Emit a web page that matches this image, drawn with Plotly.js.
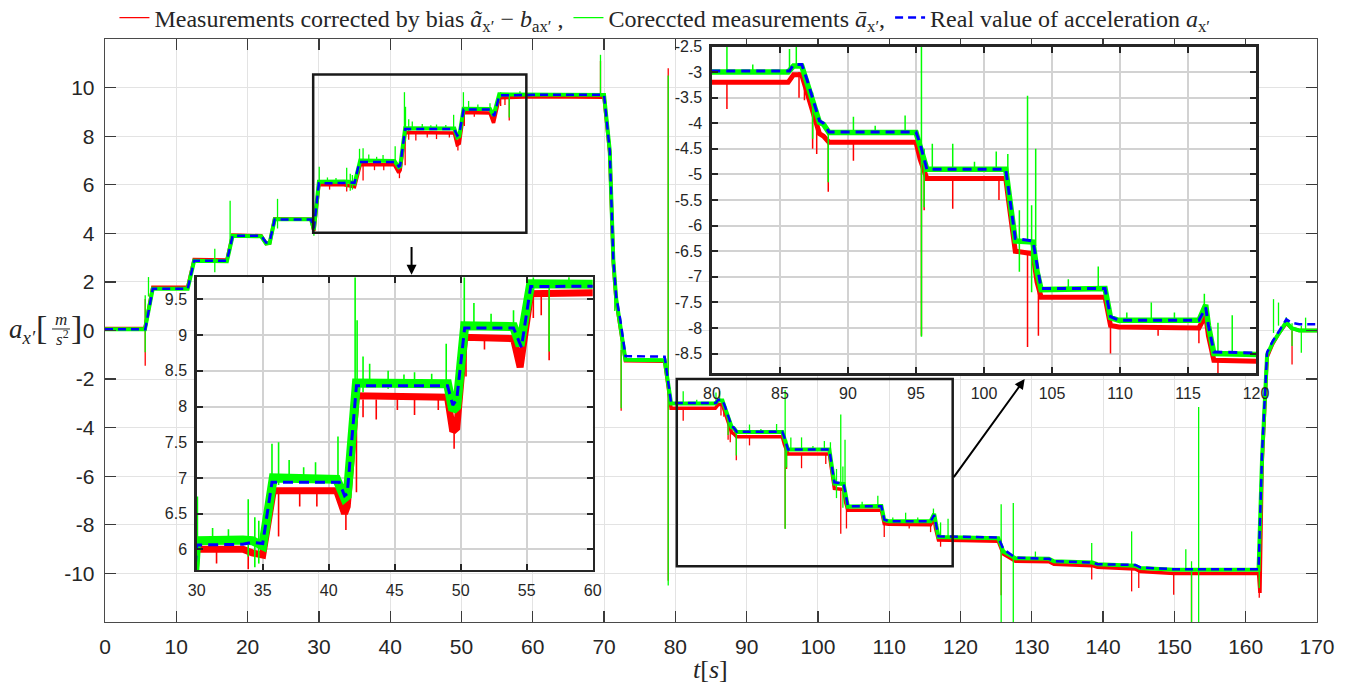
<!DOCTYPE html>
<html>
<head>
<meta charset="utf-8">
<script src="https://cdn.plot.ly/plotly-3.0.1.min.js"></script>
<style>html,body{margin:0;padding:0;background:#fff;}#chart{width:1350px;height:688px;}</style>
</head>
<body>
<div id="chart"></div>
<script>
// ---- Real value of acceleration (blue dashed) ----
const realT = [0, 5.65, 6.7, 11.6, 12.5, 17.1, 17.9, 21.9, 22.6, 23.1, 23.8, 28.9, 29.3, 30.0, 33.5, 34.2, 35.0, 35.7, 40.8, 41.2, 41.4, 42.1, 49.0, 49.4, 49.7, 50.3, 54.0, 54.6, 55.3, 60.0, 69.6, 70.0, 70.8, 71.3, 71.7, 72.3, 73.0, 78.5, 79.4, 85.7, 86.0, 86.6, 87.0, 87.9, 88.2, 88.6, 95.0, 95.3, 95.8, 101.6, 101.8, 102.3, 103.6, 103.9, 104.2, 108.9, 109.3, 109.9, 115.8, 116.3, 116.5, 116.9, 125.3, 126.0, 127.7, 132.4, 133.1, 138.5, 139.2, 144.5, 145.2, 150.0, 161.8, 162.3, 163.0, 163.8, 164.7, 165.7, 166.4, 167.5, 170.0];
const realV = [0.05, 0.05, 1.72, 1.72, 2.87, 2.87, 3.9, 3.9, 3.62, 3.65, 4.57, 4.57, 4.2, 6.06, 6.07, 6.1, 6.08, 6.94, 6.94, 6.75, 6.78, 8.29, 8.29, 8.02, 8.1, 9.1, 9.1, 8.83, 9.68, 9.7, 9.7, 9.7, 7.4, 2.9, 1.4, 0.4, -1.05, -1.08, -2.98, -2.98, -2.85, -2.85, -3.16, -3.95, -4.0, -4.17, -4.17, -4.4, -4.9, -4.9, -5.3, -6.25, -6.3, -6.8, -7.23, -7.23, -7.78, -7.85, -7.85, -7.6, -7.95, -8.47, -8.52, -9.0, -9.35, -9.4, -9.5, -9.55, -9.62, -9.65, -9.75, -9.83, -9.83, -5.0, -0.9, -0.43, -0.02, 0.46, 0.32, 0.26, 0.26];

// ---- Corrected measurements (green) ----
const corrT = [0, 5.6, 6.7, 11.6, 12.5, 17.1, 17.9, 21.9, 22.6, 23.1, 23.8, 28.9, 29.3, 30.0, 33.5, 34.2, 35.0, 35.8, 40.6, 41.2, 41.4, 42.1, 49.0, 49.4, 49.7, 50.3, 54.0, 54.5, 55.3, 60.0, 69.6, 70.0, 70.8, 71.3, 71.7, 72.3, 73.0, 78.5, 79.4, 85.6, 86.0, 86.6, 87.0, 87.9, 88.2, 88.6, 95.0, 95.3, 95.8, 101.6, 101.8, 102.3, 103.6, 103.9, 104.2, 108.9, 109.3, 109.9, 115.8, 116.3, 116.5, 116.9, 125.3, 126.0, 127.7, 132.4, 133.1, 138.5, 139.2, 144.5, 145.2, 150.0, 161.8, 162.3, 163.0, 163.8, 164.7, 165.7, 166.4, 167.5, 170.0];
const corrV = [0.05, 0.05, 1.72, 1.72, 2.87, 2.85, 3.9, 3.88, 3.58, 3.6, 4.58, 4.58, 4.15, 6.12, 6.13, 6.12, 6.05, 7.0, 6.98, 6.72, 6.75, 8.33, 8.32, 7.95, 8.0, 9.13, 9.12, 8.85, 9.72, 9.72, 9.72, 9.7, 7.4, 2.9, 1.3, 0.2, -1.2, -1.22, -3.0, -3.0, -2.88, -2.88, -3.2, -3.98, -4.02, -4.18, -4.18, -4.45, -4.9, -4.9, -5.35, -6.3, -6.32, -6.9, -7.25, -7.23, -7.8, -7.85, -7.85, -7.55, -7.95, -8.5, -8.55, -9.1, -9.38, -9.4, -9.5, -9.55, -9.62, -9.68, -9.78, -9.85, -9.85, -5.2, -1.0, -0.5, -0.1, 0.35, 0.1, 0.0, 0.0];

// ---- Measurements corrected by bias (red) ----
const biasT = [0, 5.6, 6.7, 11.6, 12.5, 17.1, 17.9, 21.9, 22.6, 23.1, 23.8, 28.9, 29.3, 30.0, 33.5, 34.2, 35.0, 35.8, 40.6, 41.2, 41.4, 42.1, 49.0, 49.4, 49.7, 50.3, 54.0, 54.5, 55.3, 60.0, 69.6, 70.0, 70.8, 71.3, 71.7, 72.3, 73.0, 78.5, 79.4, 85.6, 86.0, 86.6, 87.0, 87.9, 88.2, 88.6, 95.0, 95.3, 95.8, 101.6, 101.8, 102.3, 103.6, 103.9, 104.2, 108.9, 109.3, 109.9, 115.8, 116.3, 116.5, 116.9, 125.3, 126.0, 127.7, 132.4, 133.1, 138.5, 139.2, 144.5, 145.2, 150.0, 161.8, 162.0, 162.3, 163.0, 163.8, 164.7, 165.7, 166.4, 167.5, 170.0];
const biasV = [0.08, 0.08, 1.78, 1.78, 2.92, 2.9, 3.93, 3.9, 3.58, 3.6, 4.6, 4.58, 4.1, 6.0, 6.0, 5.95, 5.92, 6.82, 6.82, 6.5, 6.6, 8.15, 8.13, 7.65, 7.7, 8.97, 8.95, 8.55, 9.58, 9.62, 9.62, 9.6, 7.3, 2.8, 1.2, 0.1, -1.25, -1.27, -3.2, -3.2, -3.05, -3.05, -3.4, -4.2, -4.25, -4.37, -4.37, -4.7, -5.08, -5.08, -5.5, -6.5, -6.55, -7.1, -7.4, -7.4, -7.95, -7.98, -8.0, -7.75, -8.15, -8.63, -8.68, -9.2, -9.5, -9.52, -9.62, -9.68, -9.75, -9.82, -9.92, -10.0, -10.0, -10.8, -5.5, -1.1, -0.55, -0.1, 0.3, 0.1, 0.0, 0.0];

// ---- Green spikes (time, low, high) ----
const gSpikeT  = [5.64, 6.1, 15.4, 17.55, 24.2, 29.3, 30.05, 31.2, 32.4, 33.9, 34.4, 34.7, 35.7, 36.2, 37.0, 38.1, 39.0, 40.7, 42.0, 42.15, 42.6, 43.1, 44.5, 45.7, 46.5, 47.8, 48.9, 50.27, 51.0, 52.3, 54.0, 55.5, 56.7, 58.2, 69.5, 71.5, 72.4, 79.0, 81.1, 83.0, 85.7, 86.2, 87.4, 88.55, 90.4, 92.0, 94.2, 95.4, 95.6, 96.2, 97.7, 99.3, 100.9, 101.75, 102.6, 103.2, 103.5, 103.8, 106.2, 108.4, 110.5, 112.3, 114.0, 116.2, 117.2, 118.25, 125.7, 127.4, 130.5, 138.4, 144.0, 151.6, 152.4, 153.4, 161.9, 163.9, 164.6, 165.7, 166.5, 167.8, 168.4];
const gSpikeLo = [-0.9, 1.4, 2.4, 3.2, 4.2, 3.9, 6.0, 6.05, 6.05, 5.9, 5.75, 5.8, 6.9, 6.9, 6.95, 6.95, 6.95, 6.9, 8.2, 7.8, 8.2, 8.3, 8.25, 8.27, 8.3, 8.27, 8.3, 8.9, 9.1, 9.08, 9.05, 9.6, 8.77, 9.66, 9.7, 0.8, -3.2, -10.5, -3.0, -3.02, -3.0, -2.9, -4.3, -5.15, -4.2, -4.2, -4.2, -8.17, -5.64, -4.9, -4.9, -4.92, -4.9, -4.95, -6.9, -6.3, -7.3, -6.4, -7.26, -7.25, -7.86, -7.85, -7.86, -7.6, -8.5, -8.5, -12, -12, -9.45, -9.55, -9.65, -9.85, -12, -12, -10.6, -0.1, 0.2, 0.3, -0.64, -0.92, 0.0];
const gSpikeHi = [1.45, 2.2, 3.37, 5.34, 5.42, 4.5, 6.74, 6.3, 6.28, 6.7, 6.45, 6.4, 7.48, 7.5, 7.25, 7.15, 7.22, 7.58, 9.81, 9.21, 8.7, 8.6, 8.5, 8.45, 8.48, 8.46, 8.88, 9.81, 9.45, 9.3, 9.35, 9.81, 9.7, 9.85, 11.35, 2.3, -0.5, 10.5, -2.5, -2.85, -2.55, -2.5, -3.4, -4.1, -3.87, -4.05, -3.85, -2.45, -4.5, -4.4, -4.4, -4.75, -4.55, -4.6, -5.7, -3.46, -5.6, -4.5, -7.05, -6.8, -7.7, -7.5, -7.7, -7.33, -7.9, -7.75, -7.15, -7.1, -9.1, -8.75, -8.27, -9.0, -9.5, -3.15, -9.85, 1.29, 1.15, 0.55, 0.3, 0.2, 0.53];

// ---- Red spikes (time, low, high) ----
const rSpikeT  = [5.64, 31.5, 33.9, 36.2, 37.8, 39.1, 41.3, 42.1, 42.6, 43.6, 45.2, 46.5, 48.3, 49.5, 50.4, 51.8, 55.5, 56.1, 56.7, 69.5, 72.4, 79.0, 81.1, 86.4, 86.8, 87.4, 87.7, 88.55, 90.4, 95.4, 95.6, 97.7, 101.1, 103.2, 104.0, 109.3, 112.8, 115.8, 117.2, 125.7, 138.4, 144.0, 145.0, 149.9, 152.4, 161.9, 166.5];
const rSpikeLo = [-1.45, 5.8, 5.72, 6.18, 6.6, 6.6, 6.27, 6.8, 7.85, 7.82, 7.95, 7.88, 7.95, 7.41, 8.42, 8.8, 9.24, 9.28, 8.65, 9.6, -3.3, -10.3, -3.72, -3.5, -3.55, -4.5, -4.6, -5.34, -4.73, -8.15, -5.7, -5.67, -5.5, -8.37, -8.15, -8.5, -8.15, -8.3, -8.9, -10.9, -10.25, -10.74, -10.6, -10.88, -12, -11.0, -1.4];
const rSpikeHi = [1.3, 6.0, 6.0, 6.8, 6.82, 6.85, 6.8, 8.1, 8.1, 8.1, 8.13, 8.1, 8.13, 7.8, 8.9, 8.97, 9.55, 9.55, 9.55, 11.1, -0.8, 10.8, -3.2, -3.0, -3.1, -3.6, -4.0, -4.3, -4.35, -4.5, -5.0, -5.1, -5.1, -6.5, -7.3, -7.9, -7.98, -8.0, -8.6, -8.6, -9.65, -9.8, -9.9, -10.0, -10.0, -10.0, 0.0];

// ---- Tick values / labels ----
const mainXTicks = [0, 10, 20, 30, 40, 50, 60, 70, 80, 90, 100, 110, 120, 130, 140, 150, 160, 170];
const mainYTicks = [-10, -8, -6, -4, -2, 0, 2, 4, 6, 8, 10];
const mainYText  = ['-10', '-8', '-6', '-4', '-2', '0', '2', '4', '6', '8', '10'];
const in1XTicks = [30, 35, 40, 45, 50, 55, 60];
const in1YTicks = [6, 6.5, 7, 7.5, 8, 8.5, 9, 9.5];
const in1YText  = ['6', '6.5', '7', '7.5', '8', '8.5', '9', '9.5'];
const in2XTicks = [80, 85, 90, 95, 100, 105, 110, 115, 120];
const in2YTicks = [-8.5, -8, -7.5, -7, -6.5, -6, -5.5, -5, -4.5, -4, -3.5, -3, -2.5];
const in2YText  = ['-8.5', '-8', '-7.5', '-7', '-6.5', '-6', '-5.5', '-5', '-4.5', '-4', '-3.5', '-3', '-2.5'];

const legendNames = [
  'Measurements corrected by bias <i>ã</i><sub>x′</sub> − <i>b</i><sub>ax′</sub> ,',
  'Coreccted measurements <i>ā</i><sub>x′</sub>,',
  'Real value of acceleration <i>a</i><sub>x′</sub>'
];

function segs(t, lo, hi) {
  const x = [], y = [];
  for (let i = 0; i < t.length; i++) { x.push(t[i], t[i], null); y.push(lo[i], hi[i], null); }
  return {x, y};
}
const gS = segs(gSpikeT, gSpikeLo, gSpikeHi);
const rS = segs(rSpikeT, rSpikeLo, rSpikeHi);

function setFor(xa, ya, w, legend) {
  return [
    {x: biasT, y: biasV, mode: 'lines', line: {color: '#ff0000', width: w.red}, xaxis: xa, yaxis: ya, showlegend: false, hoverinfo: 'skip'},
    {x: rS.x, y: rS.y, mode: 'lines', line: {color: '#ff0000', width: w.spike}, xaxis: xa, yaxis: ya, showlegend: legend, name: legendNames[0], hoverinfo: 'skip'},
    {x: corrT, y: corrV, mode: 'lines', line: {color: '#00ff00', width: w.green}, xaxis: xa, yaxis: ya, showlegend: false, hoverinfo: 'skip'},
    {x: gS.x, y: gS.y, mode: 'lines', line: {color: '#00ff00', width: w.spike}, xaxis: xa, yaxis: ya, showlegend: legend, name: legendNames[1], hoverinfo: 'skip'},
    {x: realT, y: realV, mode: 'lines', line: {color: '#0000ff', width: w.blue, dash: w.dash}, xaxis: xa, yaxis: ya, showlegend: legend, name: legendNames[2], hoverinfo: 'skip'}
  ];
}

const data = [].concat(
  setFor('x', 'y', {red: 3.5, green: 4, spike: 1.3, blue: 2.5, dash: '8px,5px'}, true),
  setFor('x2', 'y2', {red: 7, green: 9, spike: 1.6, blue: 3, dash: '10px,6px'}, false),
  setFor('x3', 'y3', {red: 5, green: 5.5, spike: 1.5, blue: 3, dash: '9px,6px'}, false)
);

const sans = 'Liberation Sans, Arial, sans-serif';
const serif = 'Liberation Serif, Times New Roman, serif';

function insetAxis(domain, range, ticks, text, anchor) {
  const a = {domain, range, anchor, tickmode: 'array', tickvals: ticks, ticks: 'inside', ticklen: 6, tickwidth: 2,
    tickcolor: '#262626', showline: true, linecolor: '#262626', linewidth: 2.5, mirror: 'ticks',
    showgrid: true, gridcolor: '#d2d2d2', gridwidth: 2, zeroline: false,
    tickfont: {family: sans, size: 16, color: '#262626'}, ticklabelstandoff: 4};
  if (text) a.ticktext = text;
  return a;
}

const layout = {
  width: 1350, height: 688,
  margin: {l: 105, r: 33, t: 39, b: 66, autoexpand: false},
  paper_bgcolor: '#ffffff', plot_bgcolor: '#ffffff',
  showlegend: true,
  legend: {orientation: 'h', x: 0.462, xanchor: 'center', y: 1.036, yanchor: 'middle',
    font: {family: serif, size: 24, color: '#262626'}, bgcolor: 'rgba(0,0,0,0)', itemwidth: 30,
    tracegroupgap: 0},
  xaxis: {domain: [0, 1], range: [0, 170], tickmode: 'array', tickvals: mainXTicks, ticks: 'inside', ticklen: 11,
    tickwidth: 1.3, tickcolor: '#3a3a3a', showline: true, linecolor: '#4a4a4a', linewidth: 1.3, mirror: 'ticks',
    showgrid: true, gridcolor: '#e3e3e3', gridwidth: 1, zeroline: false,
    tickfont: {family: sans, size: 21, color: '#262626'}, ticklabelstandoff: 5},
  yaxis: {domain: [0, 1], range: [-12, 12], tickmode: 'array', tickvals: mainYTicks, ticktext: mainYText, ticks: 'inside', ticklen: 11,
    tickwidth: 1.3, tickcolor: '#3a3a3a', showline: true, linecolor: '#4a4a4a', linewidth: 1.3, mirror: 'ticks',
    showgrid: true, gridcolor: '#e3e3e3', gridwidth: 1, zeroline: false,
    tickfont: {family: sans, size: 21, color: '#262626'}, ticklabelstandoff: 5},
  xaxis2: insetAxis([0.0757, 0.4024], [30, 60], in1XTicks, null, 'y2'),
  yaxis2: insetAxis([0.0892, 0.5912], [5.71, 9.81], in1YTicks, in1YText, 'x2'),
  xaxis3: insetAxis([0.5008, 0.9497], [80, 120], in2XTicks, null, 'y3'),
  yaxis3: insetAxis([0.4271, 0.9871], [-8.88, -2.5], in2YTicks, in2YText, 'x3'),
  shapes: [
    {type: 'rect', xref: 'x', yref: 'y', x0: 29.2, x1: 59.1, y0: 4.02, y1: 10.54, line: {color: '#1a1a1a', width: 2.5}},
    {type: 'rect', xref: 'x', yref: 'y', x0: 80.2, x1: 118.9, y0: -9.71, y1: -2.0, line: {color: '#1a1a1a', width: 2.5}},
    {type: 'line', xref: 'paper', yref: 'paper', x0: -0.0437, x1: -0.0289, y0: 0.5026, y1: 0.5026, line: {color: '#262626', width: 1}}
  ],
  annotations: [
    {xref: 'x', yref: 'y', axref: 'x', ayref: 'y', x: 43.0, y: 2.3, ax: 43.0, ay: 3.5, showarrow: true,
      arrowhead: 2, arrowsize: 1, arrowwidth: 2, arrowcolor: '#000', text: ''},
    {xref: 'x', yref: 'y', axref: 'x', ayref: 'y', x: 129.0, y: -2.0, ax: 118.9, ay: -6.1, showarrow: true,
      arrowhead: 2, arrowsize: 1, arrowwidth: 2, arrowcolor: '#000', text: ''},
    {xref: 'paper', yref: 'paper', x: -0.0805, y: 0.4991, xanchor: 'left', yanchor: 'middle', showarrow: false,
      text: '<i>a</i><sub><i>x′</i></sub>', font: {family: serif, size: 27, color: '#262626'}},
    {xref: 'paper', yref: 'paper', x: -0.0520, y: 0.5043, xanchor: 'center', yanchor: 'middle', showarrow: false,
      text: '[', font: {family: serif, size: 34, color: '#262626'}},
    {xref: 'paper', yref: 'paper', x: -0.0365, y: 0.5197, xanchor: 'center', yanchor: 'middle', showarrow: false,
      text: '<i>m</i>', font: {family: serif, size: 17, color: '#262626'}},
    {xref: 'paper', yref: 'paper', x: -0.0352, y: 0.4871, xanchor: 'center', yanchor: 'middle', showarrow: false,
      text: '<i>s</i><sup>2</sup>', font: {family: serif, size: 17, color: '#262626'}},
    {xref: 'paper', yref: 'paper', x: -0.0236, y: 0.5043, xanchor: 'center', yanchor: 'middle', showarrow: false,
      text: ']', font: {family: serif, size: 34, color: '#262626'}},
    {xref: 'paper', yref: 'paper', x: 0.4992, y: -0.082, xanchor: 'center', yanchor: 'middle', showarrow: false,
      text: '<i>t</i>[<i>s</i>]', font: {family: serif, size: 26, color: '#262626'}}
  ]
};

Plotly.newPlot('chart', data, layout, {staticPlot: true, displayModeBar: false});
</script>
</body>
</html>
